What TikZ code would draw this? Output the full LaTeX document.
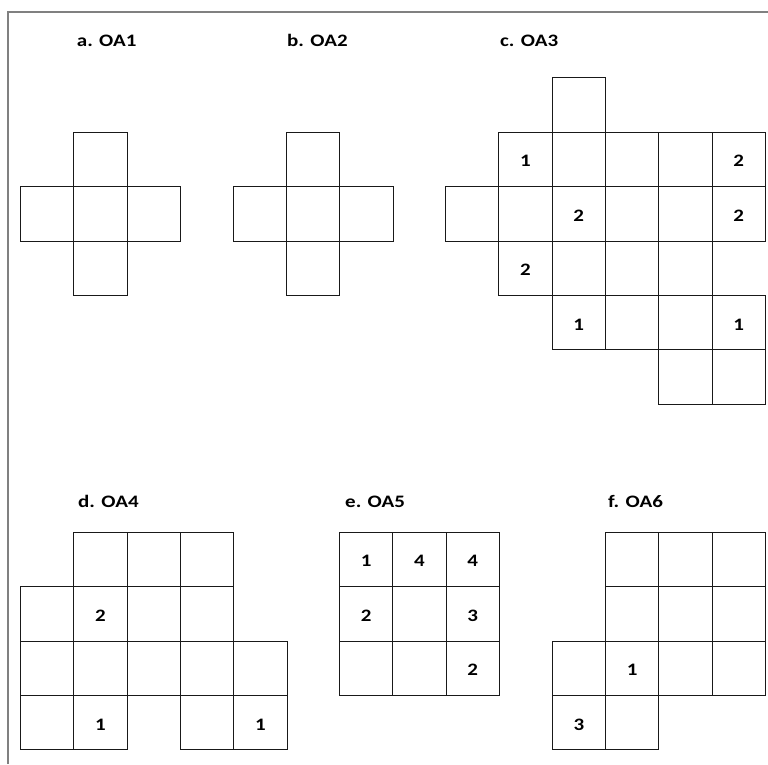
\documentclass[tikz,border=0pt]{standalone}
\usepackage{fontspec}
\setmainfont{Carlito}[FakeStretch=1.2]
\begin{document}
\begin{tikzpicture}[
    x=1pt, y=-1pt,
    font=\fontsize{17.5}{20}\selectfont\bfseries,
    frame/.style={draw=black!50, line width=1.6pt},
    cell/.style={draw=black!90, line width=1.1pt, minimum width=53.3pt,
      minimum height=54.4pt, inner sep=0pt, anchor=north west,
      text height=15pt, text depth=0pt},
    ttl/.style={anchor=base west, inner sep=0pt}
  ]
    \useasboundingbox (0,0) rectangle (768,764);
    \coordinate (corner) at (8,12);
    \coordinate (frameL) at (8,764);
    \coordinate (frameR) at (768,12);
    \draw[frame] (frameL) -- (corner) -- (frameR);

    % a. OA1
    \node[ttl] (ta) at (76.7,46) {a. OA1};
    \foreach \c/\r in {1/0,0/1,1/1,2/1,1/2}
      \node[cell] (a-\c-\r) at (20+\c*53.3,131.7+\r*54.4) {};

    % b. OA2
    \node[ttl] (tb) at (287,46) {b. OA2};
    \foreach \c/\r in {1/0,0/1,1/1,2/1,1/2}
      \node[cell] (b-\c-\r) at (232.7+\c*53.3,131.7+\r*54.4) {};

    % c. OA3
    \node[ttl] (tc) at (500,46) {c. OA3};
    \foreach \c/\r/\t in {2/0/{},
        1/1/1,2/1/{},3/1/{},4/1/{},5/1/2,
        0/2/{},1/2/{},2/2/2,3/2/{},4/2/{},5/2/2,
        1/3/2,2/3/{},3/3/{},4/3/{},
        2/4/1,3/4/{},4/4/{},5/4/1,
        4/5/{},5/5/{}}
      \node[cell] (c-\c-\r) at (445+\c*53.3,77.3+\r*54.4) {\t};

    % d. OA4
    \node[ttl] (td) at (78,507) {d. OA4};
    \foreach \c/\r/\t in {1/0/{},2/0/{},3/0/{},
        0/1/{},1/1/2,2/1/{},3/1/{},
        0/2/{},1/2/{},2/2/{},3/2/{},4/2/{},
        0/3/{},1/3/1,3/3/{},4/3/1}
      \node[cell] (d-\c-\r) at (20+\c*53.3,531.7+\r*54.4) {\t};

    % e. OA5
    \node[ttl] (te) at (345,507) {e. OA5};
    \foreach \c/\r/\t in {0/0/1,1/0/4,2/0/4,
        0/1/2,1/1/{},2/1/3,
        0/2/{},1/2/{},2/2/2}
      \node[cell] (e-\c-\r) at (339+\c*53.3,531.7+\r*54.4) {\t};

    % f. OA6
    \node[ttl] (tf) at (608,507) {f. OA6};
    \foreach \c/\r/\t in {1/0/{},2/0/{},3/0/{},
        1/1/{},2/1/{},3/1/{},
        0/2/{},1/2/1,2/2/{},3/2/{},
        0/3/3,1/3/{}}
      \node[cell] (f-\c-\r) at (551.7+\c*53.3,531.7+\r*54.4) {\t};
  \end{tikzpicture}
\end{document}
